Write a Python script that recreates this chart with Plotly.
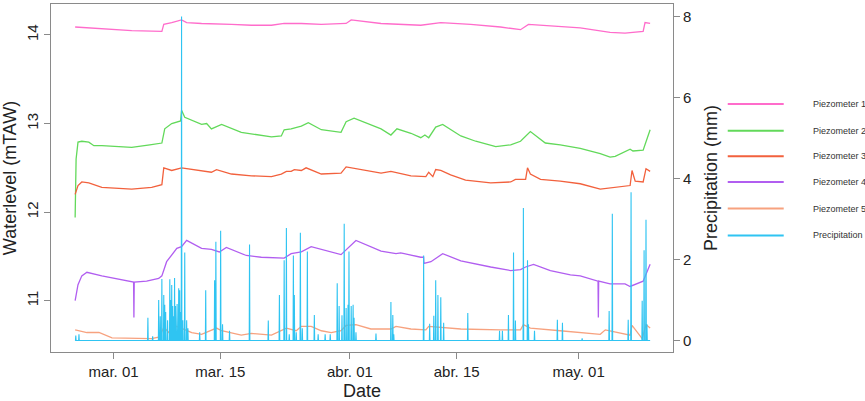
import pandas as pd
import plotly.graph_objects as go

# Piezometer readings (mTAW)
p1_time = ["2021-02-23 23:00", "2021-02-27 11:00", "2021-03-03 09:00", "2021-03-07 08:00", "2021-03-07 14:00",
           "2021-03-08 15:00", "2021-03-09 22:00", "2021-03-10 14:00", "2021-03-12 13:00", "2021-03-16 11:00",
           "2021-03-19 02:00", "2021-03-21 17:00", "2021-03-23 09:00", "2021-03-25 15:00", "2021-03-28 06:00",
           "2021-03-31 12:00", "2021-04-01 04:00", "2021-04-05 02:00", "2021-04-10 07:00", "2021-04-12 22:00",
           "2021-04-16 20:00", "2021-04-20 18:00", "2021-04-23 09:00", "2021-04-24 10:00", "2021-04-27 07:00",
           "2021-05-01 05:00", "2021-05-05 03:00", "2021-05-07 02:00", "2021-05-09 11:00", "2021-05-09 17:00",
           "2021-05-10 09:00"]
p1_level = [14.09, 14.07, 14.05, 14.04, 14.12,
            14.14, 14.17, 14.14, 14.13, 14.12,
            14.11, 14.11, 14.13, 14.13, 14.12,
            14.13, 14.17, 14.13, 14.11, 14.14,
            14.12, 14.09, 14.06, 14.12, 14.10,
            14.08, 14.03, 14.02, 14.04, 14.14,
            14.13]

p2_time = ["2021-02-23 23:00", "2021-02-24 02:00", "2021-02-24 08:00", "2021-02-24 20:00", "2021-02-25 18:00",
           "2021-02-26 10:00", "2021-02-27 11:00", "2021-03-01 10:00", "2021-03-03 09:00", "2021-03-05 18:00",
           "2021-03-06 22:00", "2021-03-07 08:00", "2021-03-07 17:00", "2021-03-08 15:00", "2021-03-09 19:00",
           "2021-03-09 22:00", "2021-03-10 08:00", "2021-03-12 13:00", "2021-03-13 05:00", "2021-03-13 20:00",
           "2021-03-15 04:00", "2021-03-17 18:00", "2021-03-21 17:00", "2021-03-23 00:00", "2021-03-23 09:00",
           "2021-03-24 07:00", "2021-03-25 15:00", "2021-03-26 13:00", "2021-03-28 06:00", "2021-03-30 20:00",
           "2021-03-31 12:00", "2021-04-01 13:00", "2021-04-05 02:00", "2021-04-06 09:00", "2021-04-07 04:00",
           "2021-04-09 00:00", "2021-04-10 07:00", "2021-04-10 20:00", "2021-04-11 08:00", "2021-04-12 06:00",
           "2021-04-13 04:00", "2021-04-15 13:00", "2021-04-17 12:00", "2021-04-20 03:00", "2021-04-22 02:00",
           "2021-04-22 17:00", "2021-04-23 09:00", "2021-04-24 16:00", "2021-04-26 15:00", "2021-04-28 14:00",
           "2021-05-01 05:00", "2021-05-03 20:00", "2021-05-05 03:00", "2021-05-05 19:00", "2021-05-07 18:00",
           "2021-05-08 03:00", "2021-05-09 11:00", "2021-05-10 09:00"]
p2_level = [11.94, 12.60, 12.79, 12.80, 12.79,
            12.75, 12.75, 12.74, 12.73, 12.76,
            12.77, 12.78, 12.94, 13.00, 13.03,
            13.15, 13.07, 12.99, 13.00, 12.94,
            12.99, 12.90, 12.85, 12.86, 12.93,
            12.94, 12.97, 13.01, 12.93, 12.90,
            13.02, 13.06, 12.94, 12.87, 12.94,
            12.89, 12.84, 12.87, 12.84, 12.96,
            12.99, 12.86, 12.80, 12.74, 12.76,
            12.78, 12.80, 12.91, 12.78, 12.76,
            12.72, 12.66, 12.62, 12.63, 12.71,
            12.69, 12.70, 12.93]

p3_time = ["2021-02-23 23:00", "2021-02-24 08:00", "2021-02-24 20:00", "2021-02-25 18:00", "2021-02-27 11:00",
           "2021-03-03 09:00", "2021-03-06 00:00", "2021-03-06 22:00", "2021-03-07 08:00", "2021-03-07 14:00",
           "2021-03-08 15:00", "2021-03-09 22:00", "2021-03-12 13:00", "2021-03-13 20:00", "2021-03-14 12:00",
           "2021-03-16 11:00", "2021-03-19 02:00", "2021-03-21 17:00", "2021-03-23 00:00", "2021-03-23 16:00",
           "2021-03-24 07:00", "2021-03-24 17:00", "2021-03-25 15:00", "2021-03-26 06:00", "2021-03-28 06:00",
           "2021-03-30 20:00", "2021-03-31 12:00", "2021-04-02 11:00", "2021-04-05 02:00", "2021-04-06 09:00",
           "2021-04-09 00:00", "2021-04-10 23:00", "2021-04-11 08:00", "2021-04-11 21:00", "2021-04-12 06:00",
           "2021-04-12 22:00", "2021-04-14 05:00", "2021-04-16 04:00", "2021-04-19 11:00", "2021-04-22 02:00",
           "2021-04-22 17:00", "2021-04-24 01:00", "2021-04-24 07:00", "2021-04-24 16:00", "2021-04-26 00:00",
           "2021-04-28 14:00", "2021-05-01 05:00", "2021-05-03 20:00", "2021-05-06 11:00", "2021-05-07 18:00",
           "2021-05-08 00:00", "2021-05-08 10:00", "2021-05-09 11:00", "2021-05-09 20:00", "2021-05-10 09:00"]
p3_level = [12.20, 12.30, 12.34, 12.33, 12.28,
            12.26, 12.28, 12.30, 12.31, 12.50,
            12.47, 12.50, 12.47, 12.45, 12.48,
            12.43, 12.41, 12.40, 12.43, 12.46,
            12.46, 12.48, 12.47, 12.50, 12.43,
            12.44, 12.51, 12.48, 12.44, 12.46,
            12.41, 12.40, 12.45, 12.40, 12.48,
            12.47, 12.42, 12.36, 12.33, 12.34,
            12.37, 12.37, 12.50, 12.43, 12.37,
            12.35, 12.32, 12.26, 12.29, 12.30,
            12.47, 12.35, 12.34, 12.49, 12.46]

p4_time = ["2021-02-23 23:00", "2021-02-24 08:00", "2021-02-24 20:00", "2021-02-25 12:00", "2021-02-27 11:00",
           "2021-03-01 10:00", "2021-03-03 15:00", "2021-03-03 16:00", "2021-03-03 17:00", "2021-03-05 08:00",
           "2021-03-06 22:00", "2021-03-07 08:00", "2021-03-07 23:00", "2021-03-09 07:00", "2021-03-09 22:00",
           "2021-03-10 14:00", "2021-03-12 13:00", "2021-03-13 20:00", "2021-03-14 21:00", "2021-03-15 19:00",
           "2021-03-18 10:00", "2021-03-20 09:00", "2021-03-23 09:00", "2021-03-24 07:00", "2021-03-25 15:00",
           "2021-03-26 22:00", "2021-03-30 20:00", "2021-04-01 19:00", "2021-04-05 02:00", "2021-04-07 01:00",
           "2021-04-07 16:00", "2021-04-10 07:00", "2021-04-10 16:00", "2021-04-10 17:00", "2021-04-11 15:00",
           "2021-04-13 04:00", "2021-04-15 13:00", "2021-04-19 11:00", "2021-04-22 02:00", "2021-04-23 09:00",
           "2021-04-24 01:00", "2021-04-25 02:00", "2021-04-27 07:00", "2021-04-29 22:00", "2021-05-01 05:00",
           "2021-05-03 13:00", "2021-05-03 14:00", "2021-05-03 15:00", "2021-05-05 03:00", "2021-05-07 02:00",
           "2021-05-07 18:00", "2021-05-09 01:00", "2021-05-09 11:00", "2021-05-10 09:00"]
p4_level = [11.00, 11.18, 11.28, 11.32, 11.28,
            11.25, 11.21, 10.81, 11.21, 11.22,
            11.25, 11.28, 11.44, 11.59, 11.61,
            11.68, 11.59, 11.58, 11.55, 11.60,
            11.51, 11.49, 11.48, 11.53, 11.55,
            11.61, 11.52, 11.68, 11.56, 11.53,
            11.54, 11.49, 11.49, 11.42, 11.44,
            11.53, 11.45, 11.38, 11.34, 11.35,
            11.38, 11.41, 11.34, 11.29, 11.28,
            11.22, 10.81, 11.22, 11.19, 11.19,
            11.16, 11.21, 11.22, 11.41]

p5_time = ["2021-02-23 23:00", "2021-02-25 12:00", "2021-02-27 02:00", "2021-02-28 19:00", "2021-03-06 00:00",
           "2021-03-07 01:00", "2021-03-07 14:00", "2021-03-08 06:00", "2021-03-09 07:00", "2021-03-09 22:00",
           "2021-03-11 06:00", "2021-03-12 13:00", "2021-03-14 12:00", "2021-03-15 04:00", "2021-03-17 18:00",
           "2021-03-19 02:00", "2021-03-21 17:00", "2021-03-23 16:00", "2021-03-24 23:00", "2021-03-25 15:00",
           "2021-03-26 22:00", "2021-03-28 06:00", "2021-03-29 13:00", "2021-03-30 20:00", "2021-03-31 12:00",
           "2021-04-01 19:00", "2021-04-03 18:00", "2021-04-06 09:00", "2021-04-07 01:00", "2021-04-09 00:00",
           "2021-04-10 23:00", "2021-04-11 08:00", "2021-04-12 22:00", "2021-04-15 13:00", "2021-04-20 18:00",
           "2021-04-23 09:00", "2021-04-23 18:00", "2021-04-24 16:00", "2021-04-28 14:00", "2021-05-01 05:00",
           "2021-05-03 20:00", "2021-05-04 12:00", "2021-05-06 11:00", "2021-05-07 18:00", "2021-05-08 00:00",
           "2021-05-09 08:00", "2021-05-09 20:00", "2021-05-10 09:00"]
p5_level = [10.67, 10.64, 10.64, 10.58, 10.57,
            10.59, 10.70, 10.64, 10.71, 10.69,
            10.64, 10.62, 10.69, 10.66, 10.61,
            10.63, 10.61, 10.69, 10.66, 10.71,
            10.71, 10.66, 10.64, 10.66, 10.72,
            10.73, 10.68, 10.68, 10.71, 10.68,
            10.67, 10.71, 10.70, 10.68, 10.67,
            10.67, 10.73, 10.69, 10.66, 10.64,
            10.62, 10.67, 10.63, 10.61, 10.72,
            10.57, 10.73, 10.69]

# Precipitation peaks (mm), zero elsewhere
rain_start = "2021-02-23 23:00"
rain_end = "2021-05-10 09:00"
rain_time = ["2021-02-24 01:00", "2021-02-24 11:00", "2021-03-05 12:00", "2021-03-06 03:00", "2021-03-06 22:00",
             "2021-03-07 03:00", "2021-03-07 08:00", "2021-03-07 14:00", "2021-03-07 17:00", "2021-03-07 20:00",
             "2021-03-08 02:00", "2021-03-08 09:00", "2021-03-08 12:00", "2021-03-08 15:00", "2021-03-08 18:00",
             "2021-03-08 21:00", "2021-03-09 00:00", "2021-03-09 03:00", "2021-03-09 08:00", "2021-03-09 13:00",
             "2021-03-09 16:00", "2021-03-09 19:00", "2021-03-09 22:00", "2021-03-10 02:00", "2021-03-10 08:00",
             "2021-03-10 14:00", "2021-03-10 18:00", "2021-03-12 07:00", "2021-03-13 02:00", "2021-03-14 06:00",
             "2021-03-14 10:00", "2021-03-15 01:00", "2021-03-15 07:00", "2021-03-16 05:00", "2021-03-18 20:00",
             "2021-03-21 07:00", "2021-03-22 18:00", "2021-03-23 09:00", "2021-03-23 16:00", "2021-03-24 01:00",
             "2021-03-24 14:00", "2021-03-24 17:00", "2021-03-24 23:00", "2021-03-25 12:00", "2021-03-25 18:00",
             "2021-03-26 10:00", "2021-03-27 08:00", "2021-03-27 20:00", "2021-03-28 18:00", "2021-03-29 10:00",
             "2021-03-30 08:00", "2021-03-30 14:00", "2021-03-30 23:00", "2021-03-31 06:00", "2021-03-31 12:00",
             "2021-03-31 18:00", "2021-03-31 21:00", "2021-04-01 04:00", "2021-04-01 10:00", "2021-04-01 13:00",
             "2021-04-01 19:00", "2021-04-04 10:00", "2021-04-06 09:00", "2021-04-06 15:00", "2021-04-06 18:00",
             "2021-04-10 16:00", "2021-04-11 11:00", "2021-04-12 00:00", "2021-04-12 06:00", "2021-04-12 13:00",
             "2021-04-12 22:00", "2021-04-13 07:00", "2021-04-16 11:00", "2021-04-20 15:00", "2021-04-21 00:00",
             "2021-04-21 19:00", "2021-04-22 11:00", "2021-04-22 17:00", "2021-04-23 18:00", "2021-04-24 07:00",
             "2021-04-24 10:00", "2021-04-25 05:00", "2021-04-28 05:00", "2021-04-28 21:00", "2021-05-01 11:00",
             "2021-05-05 00:00", "2021-05-05 10:00", "2021-05-07 12:00", "2021-05-07 21:00", "2021-05-09 08:00",
             "2021-05-09 14:00", "2021-05-09 20:00", "2021-05-09 23:00"]
rain_mm = [0.12, 0.15, 0.56, 0.10, 1.00,
           0.60, 1.52, 1.12, 0.88, 0.70,
           0.50, 1.51, 1.00, 1.37, 0.85,
           0.60, 1.54, 0.85, 0.90, 1.29,
           1.24, 0.70, 8.00, 0.50, 2.17,
           0.50, 0.30, 0.20, 1.24, 1.49,
           2.44, 2.71, 0.40, 0.24, 2.37,
           0.49, 1.12, 1.98, 2.78, 0.15,
           2.10, 1.12, 0.20, 2.66, 0.30,
           2.20, 0.63, 0.15, 0.15, 0.15,
           1.41, 0.85, 0.62, 2.88, 0.80,
           0.88, 2.20, 0.85, 0.88, 0.56,
           0.20, 0.17, 0.95, 0.63, 0.15,
           2.10, 0.41, 0.61, 1.49, 1.12,
           1.07, 0.44, 0.68, 0.24, 0.24,
           0.63, 2.17, 0.49, 3.27, 1.98,
           0.40, 0.24, 0.51, 0.44, 0.05,
           0.73, 3.13, 0.51, 3.66, 0.98,
           2.23, 2.98, 0.40]

date_ticks = ["2021-03-01", "2021-03-15", "2021-04-01", "2021-04-15", "2021-05-01"]
date_labels = ["mar. 01", "mar. 15", "abr. 01", "abr. 15", "may. 01"]
level_ticks = [11, 12, 13, 14]
rain_ticks = [0, 2, 4, 6, 8]

names = ["Piezometer 1", "Piezometer 2", "Piezometer 3", "Piezometer 4", "Piezometer 5", "Precipitation"]
colors = ["#FF6CCB", "#62D95A", "#F2613D", "#B15EF0", "#F7A27F", "#2FC4F2"]

# hourly rain line: each peak rises from and falls back to zero
hour = pd.Timedelta(hours=1)
rx = [pd.Timestamp(rain_start)]
ry = [0]
for t, v in zip(pd.to_datetime(rain_time), rain_mm):
    rx += [t - hour, t, t + hour]
    ry += [0, v, 0]
rx.append(pd.Timestamp(rain_end))
ry.append(0)

fig = go.Figure()
series = [(p1_time, p1_level), (p2_time, p2_level), (p3_time, p3_level),
          (p4_time, p4_level), (p5_time, p5_level)]
for (t, lv), name, col in zip(series, names, colors):
    fig.add_trace(go.Scatter(x=pd.to_datetime(t), y=lv, mode="lines", name=name,
                             line=dict(color=col, width=1.3)))
fig.add_trace(go.Scatter(x=rx, y=ry, mode="lines", name=names[5], yaxis="y2",
                         line=dict(color=colors[5], width=1.1)))

grey = "#8A8A8A"
font = "Liberation Sans, Arial, sans-serif"

# legend drawn by hand to the right of the plot
row_y = [0.713, 0.636, 0.5625, 0.4886, 0.412, 0.335]
for name, col, y in zip(names, colors, row_y):
    fig.add_shape(type="line", xref="paper", yref="paper", x0=1.088, x1=1.178, y0=y, y1=y,
                  line=dict(color=col, width=2))
    fig.add_annotation(xref="paper", yref="paper", x=1.222, y=y, text=name, showarrow=False,
                       xanchor="left", yanchor="middle", font=dict(size=9, color="#333333"))

fig.update_layout(
    width=865, height=401,
    margin=dict(l=49, r=192, t=3, b=46),
    paper_bgcolor="white", plot_bgcolor="white",
    font=dict(family=font, size=15, color="#222222"),
    showlegend=False,
    xaxis=dict(type="date", range=["2021-02-20 19:00", "2021-05-13 09:00"],
               tickvals=pd.to_datetime(date_ticks), ticktext=date_labels,
               showgrid=False, zeroline=False, showline=True, mirror=True,
               linecolor=grey, linewidth=1.2, ticks="outside", ticklen=6, tickcolor=grey,
               title=dict(text="Date", standoff=5)),
    yaxis=dict(range=[10.42, 14.35], tickvals=level_ticks, tickangle=-90,
               showgrid=False, zeroline=False, showline=True, mirror=True,
               linecolor=grey, linewidth=1.2, ticks="outside", ticklen=6, tickcolor=grey,
               title=dict(text="Waterlevel (mTAW)", standoff=8)),
    yaxis2=dict(range=[-0.285, 8.31], tickvals=rain_ticks, overlaying="y", side="right",
                showgrid=False, zeroline=False, showline=False,
                ticks="outside", ticklen=6, tickcolor=grey,
                title=dict(text="Precipitation (mm)", standoff=14)),
)

fig.write_html("out.html", config={"displayModeBar": False},
               post_script="document.body.style.margin='0';")
